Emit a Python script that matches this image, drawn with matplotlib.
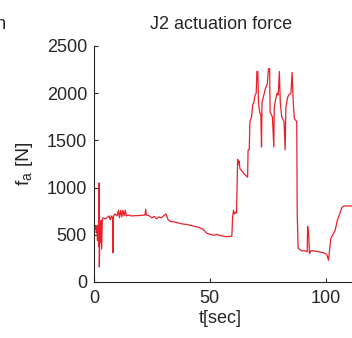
import matplotlib
matplotlib.use('Agg')
import matplotlib.pyplot as plt

# J2 actuation force
t = [0, 0.1, 0.5, 0.8, 1.0, 1.3, 1.5, 1.7, 2.0, 2.2, 2.3, 2.5, 2.8, 3.0, 3.3, 3.6,
     4.0, 5.0, 6.0, 6.5, 7.0, 7.5, 8.0, 8.2, 8.4, 9.0, 10, 10.5, 11, 11.5, 12, 12.5,
     13, 13.5, 14, 15, 16, 20, 22, 22.3, 22.6, 24, 25, 26, 27, 28, 29, 30, 31, 32,
     33, 35, 38, 40, 45, 47, 48.5, 50, 52, 53, 54, 57, 59.5, 59.8, 60.2, 60.6, 61.2,
     61.5, 62.0, 62.3, 62.6, 63, 64, 65, 66.3, 66.5, 67, 67.3, 68, 68.5, 69, 69.5,
     70, 70.3, 70.7, 71, 71.5, 72, 72.3, 72.5, 73, 73.5, 74, 74.8, 75.3, 75.8, 76,
     77, 77.6, 77.8, 78.5, 79, 79.5, 80, 80.4, 81, 82, 82.5, 82.8, 83.5, 84, 85,
     85.5, 86, 86.5, 87.5, 87.7, 88.1, 89, 90, 91, 92, 92.2, 92.6, 93, 93.5, 95,
     97, 99, 100.5, 101.2, 101.5, 102.2, 103, 104, 105, 106, 107, 108, 112, 114]
force = [0, 580, 560, 600, 520, 580, 440, 600, 380, 1050, 160, 520, 420, 650, 350, 670,
         680, 670, 690, 700, 660, 700, 680, 310, 700, 720, 700, 760, 680, 760, 690, 760,
         700, 760, 700, 710, 700, 705, 710, 770, 710, 700, 680, 695, 670, 690, 680, 700, 720, 660,
         640, 635, 615, 610, 580, 560, 520, 505, 495, 505, 495, 480, 485, 680, 760, 720, 740,
         730, 1300, 1250, 1280, 1200, 1170, 1140, 1110, 1400, 1400, 1700, 1750, 1880, 1900, 1980,
         2000, 2230, 2230, 1900, 1800, 1770, 1430, 1900, 1950, 2000, 2050, 2100, 2260, 2260, 1800,
         1750, 1430, 1850, 1950, 2000, 1980, 2230, 1900, 1750, 1700, 1400, 1850, 1950, 1980, 2000,
         2220, 1900, 1730, 1700, 730, 360, 340, 330, 330, 320, 590, 520, 300, 330, 330,
         320, 310, 290, 230, 300, 460, 500, 540, 650, 720, 790, 805, 805, 800]

xticks = [0, 50, 100]
yticks = [0, 500, 1000, 1500, 2000, 2500]

plt.rcParams['font.family'] = ['Liberation Sans', 'DejaVu Sans']
plt.rcParams['mathtext.fontset'] = 'custom'
plt.rcParams['mathtext.rm'] = 'Liberation Sans'
plt.rcParams['mathtext.it'] = 'Liberation Sans'

fig = plt.figure(figsize=(3.52, 3.38), dpi=100)
ax = fig.add_axes([94 / 352, 56 / 338, 266 / 352, 236 / 338])

ax.plot(t, force, color='#e8202a', lw=0.9)

ax.set_xlim(0, 114.8)
ax.set_ylim(0, 2500)
ax.set_xticks(xticks)
ax.set_yticks(yticks)
ax.spines['top'].set_visible(False)
ax.spines['right'].set_visible(False)
for s in ['left', 'bottom']:
    ax.spines[s].set_color('#262626')
    ax.spines[s].set_linewidth(0.8)
ax.tick_params(direction='in', length=3, labelsize=13, colors='#262626', pad=5)
ax.tick_params(axis='x', pad=6)

ax.set_title('J2 actuation force', fontsize=13, color='#262626', x=0.477, y=1.072, pad=0)
ax.set_xlabel('t[sec]', fontsize=13, color='#262626', va='top')
ax.xaxis.set_label_coords(0.474, -0.119)
ax.set_ylabel(r'f$_\mathregular{a}$ [N]', fontsize=14, color='#262626')
ax.yaxis.set_label_coords(-0.222, 0.5)

# tail of the neighbouring subplot's title
fig.text(6 / 352, (338 - 29) / 338, 'J1 actuation', ha='right', va='baseline',
         fontsize=13, color='#262626')

fig.savefig('out.png', dpi=100)
